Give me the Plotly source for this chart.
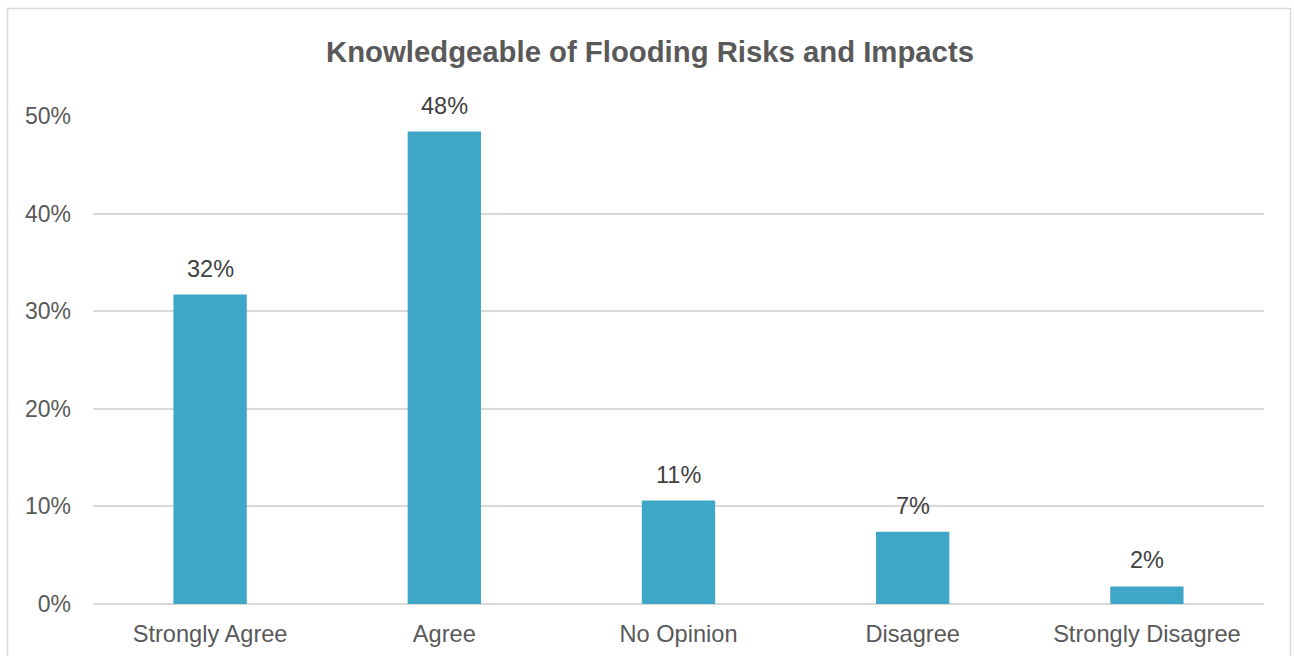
import plotly.graph_objects as go

# Survey responses: share of respondents per answer
categories = ["Strongly Agree", "Agree", "No Opinion", "Disagree", "Strongly Disagree"]
shares = [0.317, 0.484, 0.106, 0.074, 0.018]
y_ticks = [0, 0.1, 0.2, 0.3, 0.4, 0.5]
y_tick_labels = ["0%", "10%", "20%", "30%", "40%", "50%"]

W, H = 1294, 656
ML, MR, MT, MB = 93, 30, 116, 52
BAR_COLOR = "#3ea6c6"
GRID = "#d9d9d9"
FONT = "Liberation Sans, Arial, sans-serif"

fig = go.Figure(
    go.Bar(
        x=categories,
        y=shares,
        marker=dict(color=BAR_COLOR, line=dict(width=0)),
        hovertemplate="%{x}: %{y:.0%}<extra></extra>",
    )
)

# value labels above each bar
for cat, val in zip(categories, shares):
    fig.add_annotation(
        x=cat, y=val, text=f"{val:.0%}", showarrow=False,
        yanchor="bottom", yshift=11,
        font=dict(family=FONT, size=23.5, color="#404040"),
    )

# light frame around the whole chart
pw, ph = W - ML - MR, H - MT - MB
def px_x(p):
    return (p - ML) / pw
def px_y(p):
    return (H - MB - p) / ph

fig.add_shape(
    type="rect", xref="paper", yref="paper",
    x0=px_x(7.5), x1=px_x(1290.5), y0=px_y(700), y1=px_y(8.5),
    line=dict(color=GRID, width=1.5), fillcolor="rgba(0,0,0,0)", layer="below",
)

fig.update_layout(
    width=W, height=H,
    margin=dict(l=ML, r=MR, t=MT, b=MB, autoexpand=False),
    paper_bgcolor="white", plot_bgcolor="white",
    bargap=0.687,
    showlegend=False,
    title=dict(
        text="<b>Knowledgeable of Flooding Risks and Impacts</b>",
        x=650 / W, xref="container", xanchor="center",
        y=1 - 52 / H, yanchor="middle",
        font=dict(family=FONT, size=29.3, color="#595959"),
    ),
    font=dict(family=FONT, color="#595959"),
)

fig.update_xaxes(
    automargin=False,
    showgrid=False, showline=False, zeroline=False, ticks="",
    tickfont=dict(family=FONT, size=23.6, color="#595959"),
    ticklabelstandoff=13,
)
fig.update_yaxes(
    automargin=False,
    range=[0, 0.5],
    tickvals=y_ticks, ticktext=y_tick_labels,
    showgrid=True, gridcolor=GRID, gridwidth=1.5,
    zeroline=True, zerolinecolor=GRID, zerolinewidth=1.5,
    showline=False, ticks="",
    tickfont=dict(family=FONT, size=23, color="#595959"),
    ticklabelstandoff=21,
)

fig.write_html("out.html")
